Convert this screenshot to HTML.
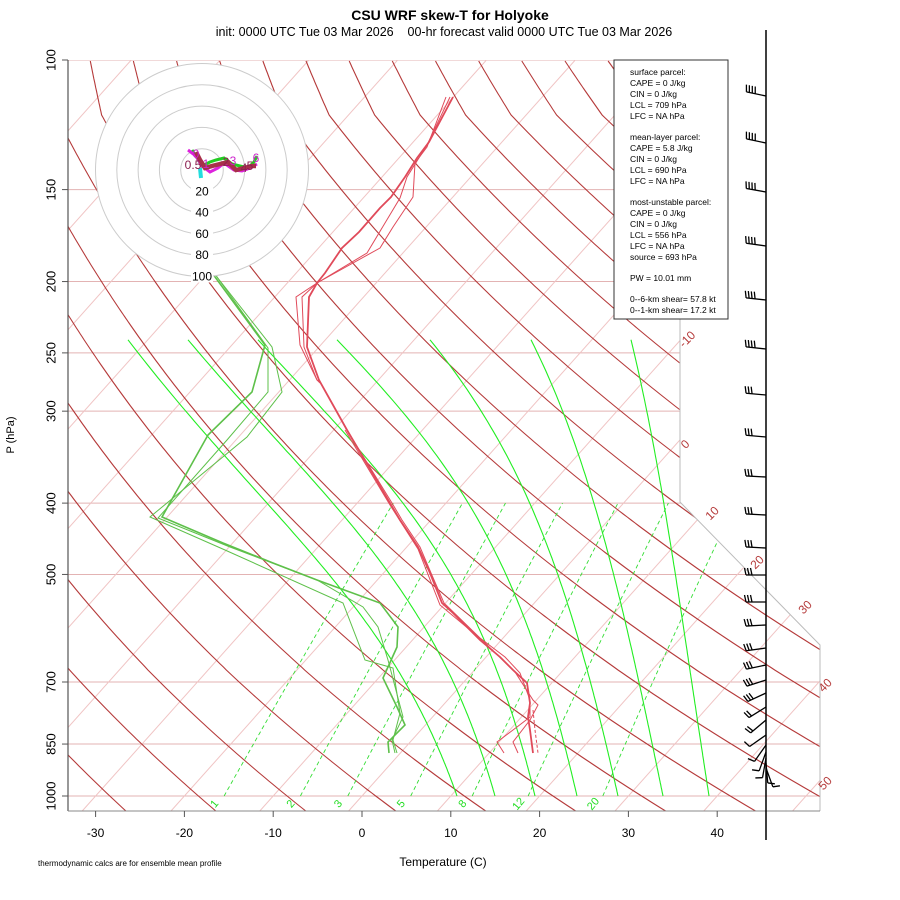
<!DOCTYPE html>
<html><head><meta charset="utf-8"><style>
body{margin:0;background:#fff;}
svg{display:block;font-family:"Liberation Sans",sans-serif;}
</style></head><body>
<svg id="s" width="900" height="900" xmlns="http://www.w3.org/2000/svg">
<defs><clipPath id="c"><polygon points="68,60 680,60 680,502 820,645 820,811 68,811"/></clipPath></defs>
<g id="grid" clip-path="url(#c)"></g>
<polyline points="680,60 680,502 820,645 820,811" fill="none" stroke="#bbb" stroke-width="1"/>
<line x1="68" y1="60" x2="68" y2="811" stroke="#555" stroke-width="1.2"/>
<line x1="68" y1="811" x2="820" y2="811" stroke="#888" stroke-width="1"/>
<g id="prof" clip-path="url(#c)"></g>
<g id="hodo"></g>
<g id="ax"></g>
<g id="barbs"></g>
<text x="450" y="20" text-anchor="middle" font-size="14" font-weight="bold">CSU WRF skew-T for Holyoke</text>
<text x="444" y="36" text-anchor="middle" font-size="12.5">init: 0000 UTC Tue 03 Mar 2026&#160;&#160;&#160;&#160;00-hr forecast valid 0000 UTC Tue 03 Mar 2026</text>
<text x="14" y="435" font-size="11" text-anchor="middle" transform="rotate(-90 14 435)">P (hPa)</text>
<text x="443" y="866" font-size="12" text-anchor="middle">Temperature (C)</text>
<text x="38" y="866" font-size="8">thermodynamic calcs are for ensemble mean profile</text>
<rect x="614" y="60" width="114" height="259" fill="#fff" stroke="#333" stroke-width="1"/>
<g font-size="8.5" fill="#000">
<text x="630" y="75">surface parcel:</text>
<text x="630" y="86">CAPE = 0 J/kg</text>
<text x="630" y="97">CIN = 0 J/kg</text>
<text x="630" y="108">LCL = 709 hPa</text>
<text x="630" y="119">LFC = NA hPa</text>
<text x="630" y="140">mean-layer parcel:</text>
<text x="630" y="151">CAPE = 5.8 J/kg</text>
<text x="630" y="162">CIN = 0 J/kg</text>
<text x="630" y="173">LCL = 690 hPa</text>
<text x="630" y="184">LFC = NA hPa</text>
<text x="630" y="205">most-unstable parcel:</text>
<text x="630" y="216">CAPE = 0 J/kg</text>
<text x="630" y="227">CIN = 0 J/kg</text>
<text x="630" y="238">LCL = 556 hPa</text>
<text x="630" y="249">LFC = NA hPa</text>
<text x="630" y="260">source = 693 hPa</text>
<text x="630" y="281">PW =  10.01 mm</text>
<text x="630" y="302">0--6-km shear= 57.8 kt</text>
<text x="630" y="313">0--1-km shear= 17.2 kt</text>
</g>
<line x1="766" y1="30" x2="766" y2="840" stroke="#000" stroke-width="1.5"/>
</svg>
<script>
var NS="http://www.w3.org/2000/svg";
function el(p,t,a,txt){var e=document.createElementNS(NS,t);for(var k in a)e.setAttribute(k,a[k]);if(txt!==undefined)e.textContent=txt;document.getElementById(p).appendChild(e);return e;}
function yP(p){return 60+736*Math.log10(p/100);}
function pY(y){return 100*Math.pow(10,(y-60)/736);}
function xT(T,y){return 362+8.88*T+0.893*(796-y);}
function poly(g,pts,st,w,dash){var s=pts.map(function(q){return q[0].toFixed(1)+","+q[1].toFixed(1)}).join(" ");var a={points:s,fill:"none",stroke:st,"stroke-width":w};if(dash)a["stroke-dasharray"]=dash;el(g,"polyline",a);}
// isobars
[100,150,200,250,300,400,500,700,850,1000].forEach(function(p){var y=yP(p);el("grid","line",{x1:68,y1:y,x2:820,y2:y,stroke:"#e3b3b3","stroke-width":1});
el("ax","line",{x1:62,y1:y,x2:68,y2:y,stroke:"#555"});
el("ax","text",{x:52,y:y,"font-size":13,"text-anchor":"middle",transform:"rotate(-90 52 "+y+")","dominant-baseline":"middle"},String(p));});
// isotherms
for(var T=-150;T<=60;T+=10){var y1=811,y2=60;el("grid","line",{x1:xT(T,y1),y1:y1,x2:xT(T,y2),y2:y2,stroke:"#f0c4c4","stroke-width":1});}
// dry adiabats (empirical field F(x,y)=a(y)+b(y)x)
function bY(y){return Math.pow(1050/pY(y),0.313);}
function aY(y){
 if(y>=668)return 137*(810-y)/142;
 if(y>=115)return 215+1.019*(668-y)-68*bY(y);
 var a115=215+1.019*553-68*bY(115);return a115+(657-a115)*(115-y)/55;}
for(var v=35;v<=2300;v+=90){var pts=[];for(var y=811;y>=59;y-=3){var x=(v-aY(y))/bY(y);pts.push([x,y]);}poly("grid",pts,"#b53a3a",1.1);}
// moist adiabats
function es(Tc){return 6.112*Math.exp(17.67*Tc/(Tc+243.5));}
function dTdp(T,p){var Tc=T-273.15;var e=es(Tc);var rs=0.622*e/(p-e);var Rd=287,cp=1005,L=2.5e6;return (Rd*T+L*rs)/(p*(cp+L*L*rs*0.622/(Rd*T*T)));}
var bots=[457,495,535,577,618,663,709],tops=[128,188,258,337,430,531,631];
var yb=yP(1000),yt=yP(240);
bots.forEach(function(xb,i){var T0=(xb-362)/8.88;var T1=T0+273.15,p1=1000;var raw=[];
while(p1>=240){var y=yP(p1);if(Math.round(p1*2)%10==0)raw.push([xT(T1-273.15,y),y]);T1-=dTdp(T1,p1)*0.5;p1-=0.5;}
var ctop=raw[raw.length-1][0];var d=tops[i]-ctop;
var pts=raw.map(function(q){return [q[0]+d*(yb-q[1])/(yb-yt),q[1]];});
poly("grid",pts,"#22ee22",1.1);});
// mixing ratio lines
[1,2,3,5,8,12,20].forEach(function(w){var pts=[];for(var p=1000;p>=400;p-=10){var e=w/1000*p/(0.622+w/1000);var l=Math.log(e/6.112);var Td=243.5*l/(17.67-l)+1.6+0.042*(w-1);var y=yP(p);pts.push([xT(Td,y),y]);}
poly("grid",pts,"#33dd33",0.9,"4,3");
var lx=pts[0][0]-7,ly=806;
el("ax","text",{x:lx,y:ly,"font-size":11,fill:"#22dd22","text-anchor":"middle",transform:"rotate(-50 "+lx+" "+ly+")"},String(w));});
// x axis
for(var T=-30;T<=40;T+=10){var x=362+8.88*T;el("ax","line",{x1:x,y1:811,x2:x,y2:817,stroke:"#555"});el("ax","text",{x:x,y:837,"font-size":12,"text-anchor":"middle"},String(T));}
// isotherm labels
[[-10,690,342],[0,688,447],[10,715,516],[20,760,565],[30,808,610],[40,828,688],[50,828,786]].forEach(function(a){el("ax","text",{x:a[1],y:a[2],"font-size":12,fill:"#b53a3a","text-anchor":"middle",transform:"rotate(-45 "+a[1]+" "+a[2]+")"},String(a[0]));});
// profiles
var red="#e04a5a",grn="#5ec04a";
poly("prof",[[446,97],[427,147],[415,163],[413,197],[393,227],[380,248],[317,283],[296,297],[300,345],[317,380],[320,382]],red,1);
poly("prof",[[450,97],[427,145],[407,177],[400,198],[367,253],[317,283],[302,297],[304,347],[317,380],[320,383]],red,1);
poly("prof",[[453,97],[429,142],[417,158],[405,177],[391,197],[380,208],[359,232],[342,248],[325,273],[317,283],[309,297],[307,347],[319,380],[347,430],[390,503],[400,520],[418,547],[430,573],[442,603],[453,613],[480,640],[500,657],[513,670],[527,683],[530,703],[528,717],[530,730],[533,753]],red,1.8);
poly("prof",[[347,430],[392,503],[402,520],[420,547],[431,573],[444,603],[480,638],[505,657],[520,673],[530,700],[530,717],[517,727],[497,742],[504,753]],red,1);
poly("prof",[[345,430],[390,505],[418,549],[440,605],[482,640],[515,672],[533,700],[538,705],[530,720],[513,742],[518,753]],red,1);
poly("prof",[[533,710],[535,730],[538,753]],red,1,"3,2");
poly("prof",[[175,205],[215,277],[265,345],[252,392],[208,435],[162,517],[223,543],[273,563],[317,580],[380,603],[398,627],[397,647],[383,678],[397,707],[405,725],[388,742],[389,753]],grn,1.6);
poly("prof",[[178,205],[217,277],[272,347],[282,392],[247,437],[150,517],[225,550],[343,603],[365,660],[393,668],[400,713],[393,740],[397,753]],grn,1);
poly("prof",[[176,205],[217,277],[268,348],[268,392],[227,440],[158,518],[230,547],[317,580],[363,607],[378,627],[388,660],[403,717],[392,740],[395,753]],grn,1);
// hodograph
var cx=202,cy=170;el("hodo","circle",{cx:cx,cy:cy,r:106.5,fill:"#fff",stroke:"#ccc","stroke-width":1});
for(var k=4;k>=1;k--)el("hodo","circle",{cx:cx,cy:cy,r:21.3*k,fill:"none",stroke:"#ccc","stroke-width":1});
[20,40,60,80,100].forEach(function(v,i){var y=cy+21.3*(i+1);el("hodo","rect",{x:cx-11,y:y-6,width:22,height:12,fill:"#fff"});el("hodo","text",{x:cx,y:y+4,"font-size":12,"text-anchor":"middle"},String(v));});
poly("hodo",[[192,150],[197,158],[202,166],[210,162],[216,160],[224,158],[232,164],[240,166],[248,168],[254,162],[257,156]],"#22cc22",3);
poly("hodo",[[188,150],[196,156],[202,166],[210,172],[218,168],[224,163],[234,170],[242,171],[250,168],[257,164]],"#dd22dd",3);
poly("hodo",[[196,152],[200,160],[205,168],[212,166],[220,164],[228,162],[236,170],[244,168],[252,166],[256,166]],"#a8304a",4.5);
poly("hodo",[[200,168],[201,178]],"#22dddd",4);
[["0",196,158,"#cc22cc"],["0.5",193,169,"#8b2050"],["1",206,168,"#cc22cc"],["2",226,166,"#8b2050"],["3",233,165,"#cc22cc"],["4",244,172,"#8b2050"],["5",250,170,"#8b2050"],["6",256,162,"#cc22cc"]].forEach(function(a){el("hodo","text",{x:a[1],y:a[2],"font-size":12,fill:a[3],"text-anchor":"middle"},a[0]);});
// barbs
var barbs=[[96,12,4],[143,12,4],[192,10,4],[246,8,4],[300,6,4],[349,6,4],[395,5,3],[437,5,3],[477,3,3],[515,3,3],[548,3,3],[575,0,3],[602,0,3],[625,-3,3],[648,-8,3],[665,-12,3],[680,-18,3],[693,-25,3],[707,-32,2],[720,-40,2],[735,-35,1],[745,-55,1],[752,-70,1],[758,-80,1],[763,-95,1],[768,-110,1]];
barbs.forEach(function(b){var y=b[0],ang=b[1]*Math.PI/180;var L=20;var ux=-Math.cos(ang),uy=-Math.sin(ang);var x1=766+ux*L,y1=y+uy*L;
el("barbs","line",{x1:766,y1:y,x2:x1,y2:y1,stroke:"#000","stroke-width":1.3});
var px=uy,py=-ux; if(py>0){px=-px;py=-py;}
for(var i=0;i<b[2];i++){var bx=x1-ux*i*3,by=y1-uy*i*3;el("barbs","line",{x1:bx,y1:by,x2:bx+px*7+ux*1.5,y2:by+py*7+uy*1.5,stroke:"#000","stroke-width":1.3});}});
</script>
</body></html>
